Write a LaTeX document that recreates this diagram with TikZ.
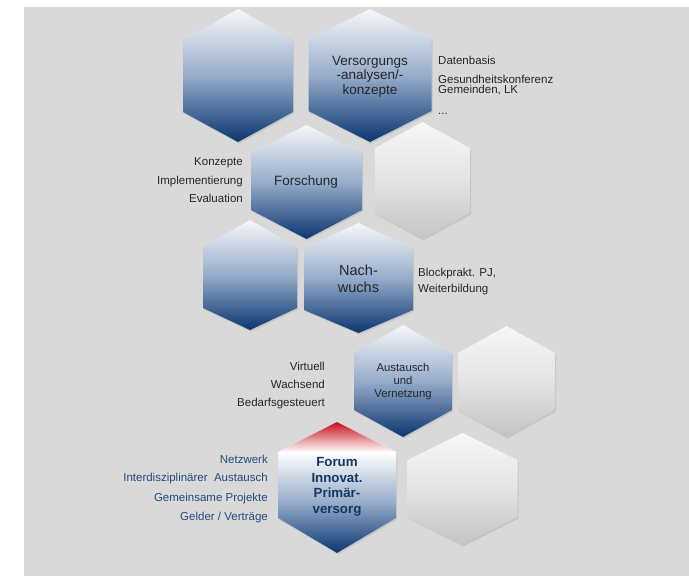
\documentclass[tikz,border=0pt]{standalone}
\usepackage{fontspec}
\setmainfont{Liberation Sans}
\usepackage{tikz}
\usetikzlibrary{shadows}
\definecolor{bggray}{RGB}{217,217,217}
\definecolor{hexnavy}{RGB}{10,54,112}
\definecolor{hexmid}{RGB}{150,172,202}
\definecolor{hexlight}{RGB}{246,247,250}
\definecolor{capred}{RGB}{196,14,26}
\definecolor{txtgray}{RGB}{38,38,38}
\definecolor{txtblue}{RGB}{36,74,128}
\definecolor{forumblue}{RGB}{22,54,98}

% hexagon: centre x, half width, top, bottom, upper and lower shoulder
\newcommand{\hexa}[6]{(#1,#3) -- ({#1+#2},#5) -- ({#1+#2},#6) -- (#1,#4) -- ({#1-#2},#6) -- ({#1-#2},#5) -- cycle}

\begin{document}
\begin{tikzpicture}[x=1pt,y=-1pt,
    hexshadow/.style={drop shadow={shadow xshift=1pt,shadow yshift=-1.5pt,opacity=.22}},
    bluehex/.style={top color=hexlight,bottom color=hexnavy,middle color=hexmid,hexshadow},
    grayhex/.style={top color=white!97!black,bottom color=white!77!black,middle color=white!89!black,hexshadow},
    side/.style={font=\fontsize{11.5}{13}\selectfont,text=txtgray,text height=8.3pt,text depth=2.4pt},
    inhex/.style={align=center,text=txtgray}]
                \tikzstyle{every node}=[inner sep=0pt]
                \useasboundingbox (0,0) rectangle (689,576);
                \fill[bggray] (24,7) rectangle (689,576);

                % hexagons
                \path[bluehex] \hexa{238}{55}{9}{142}{40}{112};
                \path[bluehex] \hexa{370}{61.5}{9}{142}{39}{111};
                \path[bluehex] \hexa{306.5}{55.5}{125}{239}{153}{210};
                \path[grayhex] \hexa{422.5}{47.5}{122}{239}{148}{213};
                \path[bluehex] \hexa{250}{47}{220}{330}{247}{308};
                \path[bluehex] \hexa{358.5}{54.5}{223}{333}{248}{310};
                \path[bluehex] \hexa{403}{49}{325}{437}{353}{410};
                \path[grayhex] \hexa{506.5}{48.5}{326}{437}{353}{410};
                \path[grayhex] \hexa{462.5}{55}{433}{545}{460}{517};
                \path[fill=white,hexshadow] \hexa{337}{59}{422}{553}{452}{518};
                \shade[top color=capred,bottom color=white] (337,422) -- (396,452) -- (278,452) -- cycle;
                \shade[top color=white,bottom color=hexnavy,middle color=hexmid] (278,452) -- (396,452) -- (396,518) -- (337,553) -- (278,518) -- cycle;

                % texts in the hexagons
                \node[inhex,font=\fontsize{13.5}{14.5}\selectfont] (vs) at (370,76.5) {Versorgungs\\-analysen/-\\konzepte};
                \node[inhex,font=\fontsize{13.5}{14.5}\selectfont] (fo) at (306,181.7) {Forschung};
                \node[inhex,font=\fontsize{14.5}{16.7}\selectfont] (nw) at (358.5,278.5) {Nach-\\wuchs};
                \node[inhex,font=\fontsize{11.3}{13}\selectfont] (av) at (403,381.5) {Austausch\\und\\Vernetzung};
                \node[inhex,text=forumblue,font=\fontsize{13.3}{15.5}\selectfont\bfseries] (fi) at (337,486.7) {Forum\\Innovat.\\Primär-\\versorg};

                % texts beside them
                \node[side,anchor=west] (vs1) at (438,61.7) {Datenbasis};
                \node[side,anchor=west] (vs2) at (438,81) {Gesundheitskonferenz};
                \node[side,anchor=west] (vs3) at (438,91) {Gemeinden, LK};
                \node[side,anchor=west] (vs4) at (438,112) {...};
                \node[side,anchor=east] (fo1) at (243,162.7) {Konzepte};
                \node[side,anchor=east] (fo2) at (243,181.7) {Implementierung};
                \node[side,anchor=east] (fo3) at (243,200) {Evaluation};
                \node[side,anchor=west] (nw1) at (418,273.3) {Blockprakt. PJ,};
                \node[side,anchor=west] (nw2) at (418,290) {Weiterbildung};
                \node[side,anchor=east] (av1) at (325,367.7) {Virtuell};
                \node[side,anchor=east] (av2) at (325,386) {Wachsend};
                \node[side,anchor=east] (av3) at (325,404) {Bedarfsgesteuert};
                \node[side,anchor=east,text=txtblue] (fi1) at (268,460.7) {Netzwerk};
                \node[side,anchor=east,text=txtblue] (fi2) at (268,479) {Interdisziplinärer\ \ Austausch};
                \node[side,anchor=east,text=txtblue] (fi3) at (268,498.3) {Gemeinsame Projekte};
                \node[side,anchor=east,text=txtblue] (fi4) at (268,517.3) {Gelder / Verträge};
          \end{tikzpicture}
\end{document}
